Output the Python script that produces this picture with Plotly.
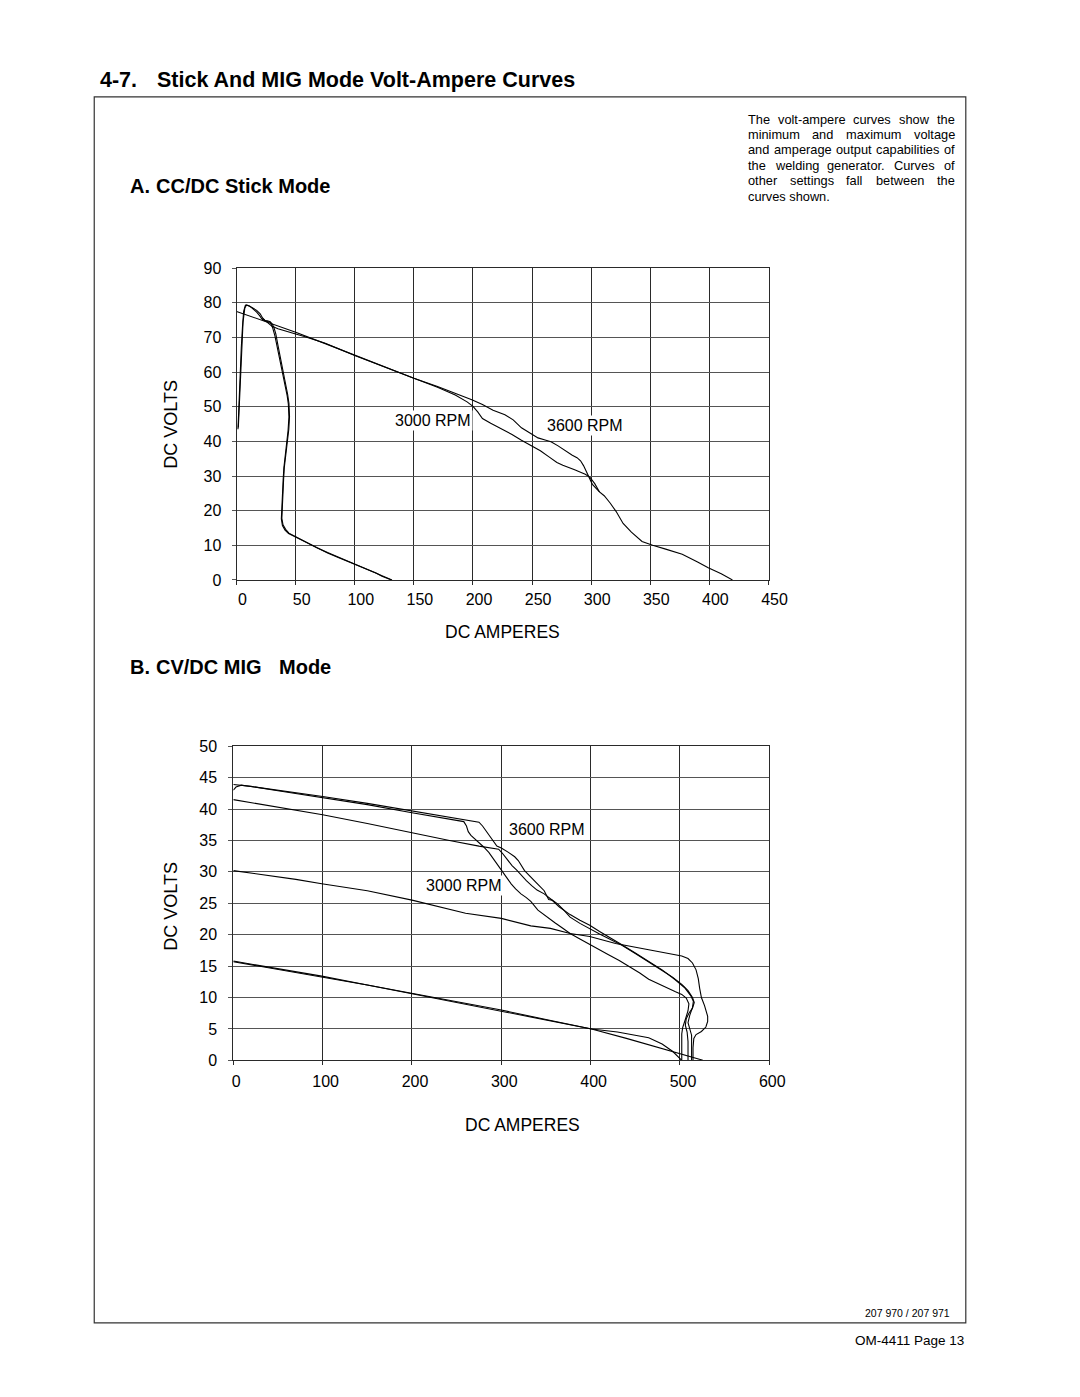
import plotly.graph_objects as go

W, H = 1080, 1397
FONT = "Liberation Sans, Arial, Helvetica, sans-serif"

# ---------------- data: A. CC/DC Stick Mode ----------------
stick_amp_ticks = [0, 50, 100, 150, 200, 250, 300, 350, 400, 450]
stick_volt_ticks = [0, 10, 20, 30, 40, 50, 60, 70, 80, 90]

stick_min_a_amps = [1.2, 2.0, 3.0, 4.0, 5.0, 6.0, 7.5, 9.5, 13, 17,
                    20, 22, 24, 27, 29.5, 31.5, 33.2, 35, 37, 39,
                    40.5, 42, 43.2, 44.3, 44.8, 44.2, 42.9, 41.8, 41, 40.4,
                    39.8, 39.2, 38.6, 38.3, 39.3, 41.5, 44.3, 47, 49.8, 55,
                    61, 68, 77, 86, 94, 102, 111, 118, 123, 128, 131.5]
stick_min_a_volts = [43.5, 51, 60, 67, 73, 77.5, 79.3, 79.2, 78.6, 77.8,
                     76.8, 75.6, 74.9, 74.6, 74.2, 73, 71, 67.8, 64.5, 61,
                     58.5, 55.8, 53.6, 51, 47.2, 43.5, 39.6, 37, 34.9, 32.5,
                     29, 25, 21, 17.8, 15.9, 14.6, 13.5, 13, 12.5, 11.6,
                     10.5, 9.3, 7.9, 6.6, 5.5, 4.3, 3.0, 2.1, 1.2, 0.5, 0]

stick_min_b_amps = [1.5, 2.5, 3.5, 4.5, 5.5, 7, 8.5, 11, 14, 17,
                    19.5, 21.5, 23.5, 26, 28.5, 30.5, 32.5, 34.5, 36.5, 38.5,
                    40, 41.5, 42.8, 43.8, 44.3, 43.6, 42.4, 41.3, 40.6, 40,
                    39.4, 38.8, 38.2, 37.9, 38.8, 41, 44, 47, 50, 55,
                    61, 68, 77, 86, 94, 102, 111, 118, 123, 128, 131]
stick_min_b_volts = [44, 53, 62, 69, 74.5, 78.5, 79.4, 79.1, 78.3, 77.3,
                     76.3, 75.3, 74.8, 74.8, 74.5, 72.8, 70.4, 67.2, 64, 60.8,
                     58.2, 55.5, 53.2, 50.8, 47, 43.2, 39.5, 36.8, 34.7, 32.3,
                     28.8, 24.8, 20.8, 17.6, 15.7, 14.4, 13.4, 12.9, 12.4, 11.5,
                     10.4, 9.2, 7.8, 6.5, 5.4, 4.2, 2.9, 2.0, 1.1, 0.4, 0]

stick_max_3000_amps = [0, 25, 50, 75, 100, 125, 150, 170, 185, 195,
                       200, 204, 208, 215, 225, 233, 241, 249, 257, 264,
                       271, 276, 280, 286, 291, 295, 299, 303, 307, 311,
                       316, 321, 327, 334, 343, 352, 363, 377, 390, 399,
                       410, 419.5]
stick_max_3000_volts = [77.5, 74.5, 71.5, 68.2, 64.8, 61.5, 58.2, 55.6, 53.4, 51.4,
                        50.1, 48.5, 46.6, 45.2, 43.5, 42, 40.3, 38.7, 37.3, 35.6,
                        33.9, 33.1, 32.5, 31.8, 31.1, 30.5, 29.6, 27.8, 25.4, 24.3,
                        22.2, 19.8, 16.3, 13.8, 11.1, 10.0, 8.9, 7.4, 5.2, 3.5,
                        1.8, 0]

stick_max_3600_amps = [22, 26, 30, 35, 42, 50, 58, 66, 75, 100,
                       125, 150, 170, 180, 190, 199, 208, 217, 227, 234,
                       241, 248, 255, 261, 266, 272, 280, 284, 288, 291,
                       293.5, 296, 298, 301, 307]
stick_max_3600_volts = [75.5, 74.3, 73.2, 72.5, 71.7, 71.0, 70.2, 69.3, 68.3, 64.8,
                        61.5, 58.2, 55.8, 54.5, 53.2, 52.0, 50.6, 49.0, 47.7, 46.2,
                        43.9, 42.5, 41.0, 40.4, 39.9, 38.7, 36.8, 36.0, 35.3, 34.4,
                        33.0, 31.3, 29.9, 27.6, 25.4]

stick_labels = ["3000 RPM", "3600 RPM"]
stick_label_amps = [166.5, 295]
stick_label_volts = [45.9, 44.6]

# ---------------- data: B. CV/DC MIG Mode ----------------
mig_amp_ticks = [0, 100, 200, 300, 400, 500, 600]
mig_volt_ticks = [0, 5, 10, 15, 20, 25, 30, 35, 40, 45, 50]

mig_3600_a_amps = [0, 3, 9, 50, 100, 150, 200, 240, 260, 275,
                   279, 283, 287, 291, 295, 300, 304, 308, 315, 319,
                   326, 333, 341, 348, 351, 353, 357, 363, 370, 377,
                   388, 399, 410, 420, 435, 450, 465, 480, 492, 502,
                   509, 514, 516, 514, 510, 507, 506, 508, 509, 509]
mig_3600_a_volts = [43.0, 43.5, 43.8, 43.0, 42.0, 40.9, 39.7, 38.8, 38.3, 37.9,
                    37.3, 36.5, 35.8, 34.8, 34.1, 33.8, 33.5, 33.1, 32.4, 31.8,
                    30.2, 29.1, 28.0, 27.0, 26.0, 25.6, 25.5, 24.9, 23.9, 22.8,
                    21.8, 20.9, 20.1, 19.4, 18.3, 17.0, 15.7, 14.3, 13.2, 12.1,
                    11.1, 10.0, 9.2, 8.3, 7.5, 6.6, 5.6, 4.5, 3.0, 0]

mig_3600_b_amps = [0, 20, 50, 100, 150, 200, 240, 258, 261, 263,
                   266, 270, 275, 280, 286, 290, 294, 298, 302, 307,
                   311, 316, 322, 328, 333, 341, 350, 360, 370, 377,
                   388, 399, 410, 420, 432, 443, 455, 465, 475, 485,
                   495, 502, 507, 510, 509, 506, 503, 502, 502]
mig_3600_b_volts = [43.9, 43.6, 42.9, 41.8, 40.7, 39.4, 38.5, 38.0, 37.3, 36.4,
                    35.8, 35.3, 34.6, 34.0, 33.1, 32.3, 31.4, 30.7, 29.9, 29.0,
                    28.1, 27.3, 26.5, 25.9, 25.3, 23.9, 22.9, 21.9, 20.9, 20.2,
                    19.3, 18.4, 17.6, 16.8, 15.9, 15.0, 13.9, 12.9, 12.2, 11.5,
                    10.9, 10.5, 9.9, 9.0, 7.9, 6.5, 5.2, 4.2, 0]

mig_3000_max_amps = [0, 20, 40, 100, 150, 200, 242, 275, 297, 301,
                     304, 308, 312, 317, 322, 328, 334, 340, 348, 356,
                     365, 377, 388, 399, 410, 420, 435, 450, 465, 480,
                     494, 505, 512, 515, 514, 511, 509, 511, 513, 513]
mig_3000_max_volts = [41.5, 41.0, 40.5, 39.1, 37.7, 36.2, 35.0, 34.1, 33.6, 33.0,
                      32.4, 31.7, 31.0, 30.3, 29.5, 28.6, 27.8, 27.1, 26.5, 25.6,
                      24.4, 23.2, 22.3, 21.5, 20.5, 19.7, 18.4, 17.1, 15.8, 14.4,
                      12.9, 11.6, 10.3, 9.4, 8.4, 7.2, 6.0, 5.0, 4.0, 0]

mig_mid_amps = [0, 20, 40, 70, 99, 150, 200, 245, 260, 300,
                333, 355, 377, 399, 428, 465, 490, 502, 509, 514,
                518, 520.5, 522, 524, 527.5, 531, 531, 529, 524, 518,
                515.5, 514.6, 514.6]
mig_mid_volts = [30.2, 29.8, 29.4, 28.8, 28.1, 27.0, 25.5, 24.0, 23.4, 22.6,
                 21.4, 21.0, 20.2, 19.7, 18.6, 17.6, 16.9, 16.6, 16.2, 15.5,
                 14.4, 13.0, 11.5, 10.0, 8.7, 7.0, 6.2, 5.3, 4.6, 4.1,
                 3.5, 2.0, 0]

mig_min_a_amps = [0, 50, 99, 150, 200, 250, 300, 350, 401, 440, 480, 525.6]
mig_min_a_volts = [15.8, 14.6, 13.4, 12.0, 10.7, 9.3, 8.0, 6.5, 5.0, 3.5, 1.9, 0]

mig_min_b_amps = [0, 50, 99, 150, 200, 250, 300, 350, 401, 430, 465, 480, 492, 502]
mig_min_b_volts = [15.7, 14.5, 13.3, 12.0, 10.6, 9.2, 7.9, 6.4, 5.0, 4.5, 3.6, 2.6, 1.4, 0]

mig_labels = ["3600 RPM", "3000 RPM"]
mig_label_amps = [351.5, 258.5]
mig_label_volts = [36.7, 27.8]

# ---------------- page texts ----------------
title_num = "4-7."
title_text = "Stick And MIG Mode Volt-Ampere Curves"
section_a = ["A.", "CC/DC Stick Mode", ""]
section_b = ["B.", "CV/DC MIG", "Mode"]
y_title = "DC VOLTS"
x_title = "DC AMPERES"
para_lines = ["The volt-ampere curves show the",
              "minimum and maximum voltage",
              "and amperage output capabilities of",
              "the welding generator. Curves of",
              "other settings fall between the",
              "curves shown."]
drawing_no = "207 970 / 207 971"
page_no = "OM-4411 Page 13"

# Arial / Liberation Sans advance widths (per 1000 em) for justification
AW = {' ': 278, 'T': 611, 'C': 722, 'h': 556, 'e': 556, 'v': 500, 'o': 556, 'l': 222,
      't': 278, '-': 333, 'a': 556, 'm': 833, 'p': 556, 'r': 333, 'c': 500, 'u': 556,
      's': 500, 'w': 722, 'i': 222, 'n': 556, 'x': 500, 'g': 556, 'y': 500, 'b': 556,
      'd': 556, '.': 278, 'f': 278, 'k': 500}


def tw(s, size):
    return sum(AW.get(c, 556) for c in s) * size / 1000.0


def px(x):
    return x / W


def py(y):
    return 1 - y / H


fig = go.Figure()

line_style = dict(color="black", width=1.1)
for ax, ay in [(stick_min_a_amps, stick_min_a_volts), (stick_min_b_amps, stick_min_b_volts),
               (stick_max_3000_amps, stick_max_3000_volts), (stick_max_3600_amps, stick_max_3600_volts)]:
    fig.add_trace(go.Scatter(x=ax, y=ay, mode="lines", line=line_style, xaxis="x", yaxis="y",
                             hoverinfo="skip"))

for ax, ay in [(mig_3600_a_amps, mig_3600_a_volts), (mig_3600_b_amps, mig_3600_b_volts),
               (mig_3000_max_amps, mig_3000_max_volts), (mig_mid_amps, mig_mid_volts),
               (mig_min_a_amps, mig_min_a_volts), (mig_min_b_amps, mig_min_b_volts)]:
    fig.add_trace(go.Scatter(x=ax, y=ay, mode="lines", line=line_style, xaxis="x2", yaxis="y2",
                             hoverinfo="skip"))

tickfont = dict(family=FONT, size=16, color="black")
common_x = dict(showgrid=True, gridcolor="#2a2a2a", gridwidth=1, zeroline=False,
                showline=True, linecolor="#2a2a2a", linewidth=1, mirror=True,
                ticks="outside", ticklen=4, tickcolor="#2a2a2a", tickfont=tickfont)
common_y = dict(showgrid=True, gridcolor="#555555", gridwidth=1.2, zeroline=False,
                showline=True, linecolor="#2a2a2a", linewidth=1, mirror=True,
                ticks="outside", ticklen=4, tickcolor="#555555", tickfont=tickfont)

fig.update_layout(
    width=W, height=H, margin=dict(l=0, r=0, t=0, b=0),
    paper_bgcolor="white", plot_bgcolor="white", showlegend=False,
    xaxis=dict(domain=[px(240), px(782)], anchor="y", range=[0, 450],
               tickvals=stick_amp_ticks, ticktext=[str(v) for v in stick_amp_ticks],
               ticklabelshift=6, ticklabelstandoff=1, **common_x),
    yaxis=dict(domain=[py(579), py(263.3)], anchor="x", range=[0, 90],
               tickvals=stick_volt_ticks, ticktext=[str(v) for v in stick_volt_ticks],
               ticklabelstandoff=7, **common_y),
    xaxis2=dict(domain=[px(236.7), px(782.8)], anchor="y2", range=[0, 600],
                tickvals=mig_amp_ticks, ticktext=[str(v) for v in mig_amp_ticks],
                ticklabelshift=3, ticklabelstandoff=2, **common_x),
    yaxis2=dict(domain=[py(1065.3), py(747.3)], anchor="x2", range=[0, 50],
                tickvals=mig_volt_ticks, ticktext=[str(v) for v in mig_volt_ticks],
                ticklabelstandoff=8, **common_y),
)

ann = []
# RPM labels (white background hides grid lines)
for t, xa, ya in zip(stick_labels, stick_label_amps, stick_label_volts):
    ann.append(dict(x=xa, y=ya, xref="x", yref="y", text=t, showarrow=False,
                    xanchor="center", yanchor="middle",
                    font=dict(family=FONT, size=16, color="black"), bgcolor="white", borderpad=1))
for t, xa, ya in zip(mig_labels, mig_label_amps, mig_label_volts):
    ann.append(dict(x=xa, y=ya, xref="x2", yref="y2", text=t, showarrow=False,
                    xanchor="center", yanchor="middle",
                    font=dict(family=FONT, size=16, color="black"), bgcolor="white", borderpad=1))

# axis titles
for xc, yc in [(173, 421), (173, 909)]:
    ann.append(dict(x=px(xc), y=py(yc), xref="paper", yref="paper", text=y_title, textangle=-90,
                    xanchor="center", yanchor="middle",
                    showarrow=False, font=dict(family=FONT, size=18, color="black")))
for xc, yc in [(511, 632), (531, 1131)]:
    ann.append(dict(x=px(xc), y=py(yc), xref="paper", yref="paper", text=x_title,
                    xanchor="center", yanchor="middle",
                    showarrow=False, font=dict(family=FONT, size=17.5, color="black")))

# page title
ann.append(dict(x=px(99), y=py(73), xref="paper", yref="paper", xanchor="left", yanchor="middle",
                text="<b>" + title_num + "</b>", showarrow=False,
                font=dict(family=FONT, size=21.5, color="black")))
ann.append(dict(x=px(157), y=py(73), xref="paper", yref="paper", xanchor="left", yanchor="middle",
                text="<b>" + title_text + "</b>", showarrow=False,
                font=dict(family=FONT, size=21.5, color="black")))

# section headings
HSZ = 20
for (lab, txt, tail), yc in [(section_a, 180), (section_b, 667)]:
    ann.append(dict(x=px(129), y=py(yc), xref="paper", yref="paper", xanchor="left", yanchor="middle",
                    text="<b>" + lab + "</b>", showarrow=False,
                    font=dict(family=FONT, size=HSZ, color="black")))
    ann.append(dict(x=px(156), y=py(yc), xref="paper", yref="paper", xanchor="left", yanchor="middle",
                    text="<b>" + txt + "</b>", showarrow=False,
                    font=dict(family=FONT, size=HSZ, color="black")))
    if tail:
        ann.append(dict(x=px(338), y=py(yc), xref="paper", yref="paper", xanchor="right",
                        yanchor="middle", text="<b>" + tail + "</b>", showarrow=False,
                        font=dict(family=FONT, size=HSZ, color="black")))

# justified paragraph
PSZ = 12.8
p_left, p_right = 760, 970
p_top, p_step = 112.5, 15.6
for i, line in enumerate(para_lines):
    yc = p_top + i * p_step
    words = line.split(" ")
    if i == len(para_lines) - 1:
        ann.append(dict(x=px(p_left), y=py(yc), xref="paper", yref="paper", xanchor="left",
                        yanchor="middle", text=line, showarrow=False, borderpad=0,
                        font=dict(family=FONT, size=PSZ, color="black")))
        continue
    widths = [tw(w, PSZ) for w in words]
    gap = (p_right - p_left - sum(widths)) / (len(words) - 1)
    xcur = p_left
    for w, wd in zip(words, widths):
        ann.append(dict(x=px(xcur), y=py(yc), xref="paper", yref="paper", xanchor="left",
                        yanchor="middle", text=w, showarrow=False, borderpad=0,
                        font=dict(family=FONT, size=PSZ, color="black")))
        xcur += wd + gap

# footer texts
ann.append(dict(x=px(968), y=py(1321.5), xref="paper", yref="paper", xanchor="right", yanchor="middle",
                text=drawing_no, showarrow=False, borderpad=0,
                font=dict(family=FONT, size=10.5, color="black")))
ann.append(dict(x=px(982), y=py(1349), xref="paper", yref="paper", xanchor="right", yanchor="middle",
                text=page_no, showarrow=False, borderpad=0,
                font=dict(family=FONT, size=13.5, color="black")))

fig.update_layout(annotations=ann)

# page frame
fig.add_shape(type="rect", xref="paper", yref="paper", x0=px(95), x1=px(983), y0=py(1331), y1=py(90),
              line=dict(color="#333333", width=1.2), fillcolor="rgba(0,0,0,0)", layer="below")

fig.write_html("out.html", config={"displayModeBar": False})
